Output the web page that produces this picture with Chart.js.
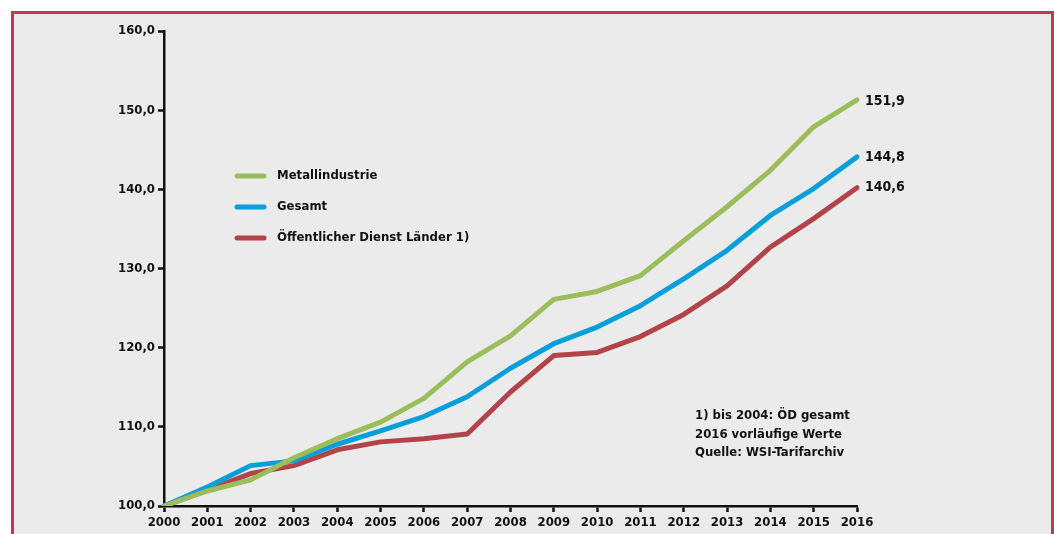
<!DOCTYPE html>
<html>
<head>
<meta charset="utf-8">
<script src="https://cdn.jsdelivr.net/npm/chart.js@4.4.1/dist/chart.umd.min.js"></script>
<style>
  html, body { margin: 0; padding: 0; background: #fff; }
  .frame {
    position: absolute; left: 11px; top: 11px; width: 1037px; height: 540px;
    border: 3px solid #c53a42; background: #ebebeb;
  }
  #wrap { position: absolute; left: 0; top: 0; width: 1054px; height: 534px; }
</style>
</head>
<body>
<div class="frame"></div>
<div id="wrap"><canvas id="chart" width="1054" height="534"></canvas></div>
<script>
// Jahre und Indexwerte (2000 = 100)
const years = ['2000','2001','2002','2003','2004','2005','2006','2007','2008','2009','2010','2011','2012','2013','2014','2015','2016']
const metall = [100, 101.9, 103.3, 106.1, 108.5, 110.6, 113.6, 118.2, 121.5, 126.1, 127.1, 129.1, 133.5, 137.8, 142.4, 147.9, 151.3]
const gesamt = [100, 102.4, 105.1, 105.7, 107.8, 109.5, 111.3, 113.8, 117.4, 120.5, 122.6, 125.3, 128.7, 132.3, 136.7, 140.1, 144.1]
const oedLaender = [100, 102.0, 104.1, 105.1, 107.1, 108.1, 108.5, 109.1, 114.4, 119.0, 119.4, 121.4, 124.2, 127.8, 132.7, 136.3, 140.2]
const seriesNames = ['Metallindustrie', 'Gesamt', 'Öffentlicher Dienst Länder 1)']
const endLabels = ['151,9', '144,8', '140,6']
const yTicks = [100, 110, 120, 130, 140, 150, 160]
const notes = ['1) bis 2004: ÖD gesamt', '2016 vorläufige Werte', 'Quelle: WSI-Tarifarchiv']

const colors = ['#9bbd5b', '#079fda', '#b3434a']
const FONT = '"DejaVu Sans Condensed", "DejaVu Sans", sans-serif'

const ctx = document.getElementById('chart').getContext('2d')

// Legende, Endwerte und Fußnote direkt aufs Canvas
const extras = {
  id: 'extras',
  afterDatasetsDraw(chart) {
    const c = chart.ctx
    const x = chart.scales.x, y = chart.scales.y
    c.save()
    c.fillStyle = '#111'
    c.textBaseline = 'middle'

    // Legende
    chart.data.datasets.forEach((ds, i) => {
      const ly = 176 + i * 31
      c.strokeStyle = ds.borderColor
      c.lineWidth = 5
      c.lineCap = 'round'
      c.beginPath()
      c.moveTo(237, ly)
      c.lineTo(264, ly)
      c.stroke()
      c.font = 'bold 13px ' + FONT
      c.textAlign = 'left'
      c.fillText(ds.label, 277, ly)
    })

    // Endwerte
    const offs = [1, 0, 0]
    chart.data.datasets.forEach((ds, i) => {
      const last = ds.data.length - 1
      c.font = 'bold 14px ' + FONT
      c.textAlign = 'left'
      c.fillText(endLabels[i], x.getPixelForValue(last) + 8, y.getPixelForValue(ds.data[last]) + offs[i])
    })

    // Fußnote
    c.font = 'bold 13px ' + FONT
    notes.forEach((t, i) => c.fillText(t, 695, 416 + i * 18.5))
    c.restore()
  }
}

const mkSet = (label, data, color) => ({
  label: label,
  data: data,
  borderColor: color,
  backgroundColor: color,
  borderWidth: 5,
  borderCapStyle: 'round',
  borderJoinStyle: 'round',
  pointRadius: 0,
  tension: 0
})

new Chart(ctx, {
  type: 'line',
  data: {
    labels: years,
    datasets: [
      mkSet(seriesNames[0], metall, colors[0]),
      mkSet(seriesNames[1], gesamt, colors[1]),
      mkSet(seriesNames[2], oedLaender, colors[2])
    ]
  },
  options: {
    responsive: false,
    animation: false,
    devicePixelRatio: 1,
    layout: { padding: { left: 0, top: 31, right: 197, bottom: 0 } },
    plugins: {
      legend: { display: false },
      tooltip: { enabled: false }
    },
    scales: {
      x: {
        offset: false,
        grid: { display: true, drawOnChartArea: false, tickLength: 6, tickWidth: 2.5, tickColor: '#111' },
        border: { display: true, color: '#111', width: 2.5 },
        ticks: { color: '#111', font: { family: FONT, weight: 'bold', size: 13 }, padding: 3, maxRotation: 0, autoSkip: false },
        afterFit: s => { s.height = 28 }
      },
      y: {
        min: 100,
        max: 160,
        afterBuildTicks: s => { s.ticks = yTicks.map(v => ({ value: v })) },
        grid: { display: true, drawOnChartArea: false, tickLength: 6, tickWidth: 2.5, tickColor: '#111' },
        border: { display: true, color: '#111', width: 2.5 },
        ticks: {
          color: '#111',
          autoSkip: false,
          font: { family: FONT, weight: 'bold', size: 13 },
          padding: 3,
          callback: v => v.toFixed(1).replace('.', ',')
        },
        afterFit: s => { s.width = 164 }
      }
    }
  },
  plugins: [extras]
})
</script>
</body>
</html>
